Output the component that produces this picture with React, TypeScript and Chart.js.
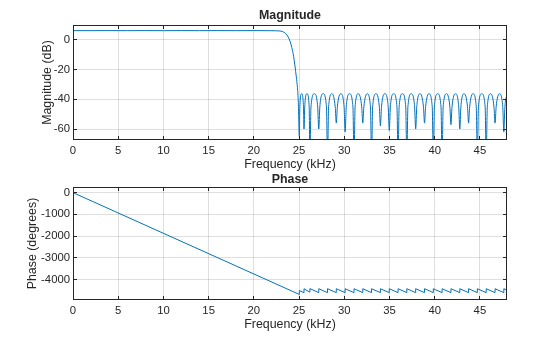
import React, { useEffect, useRef } from "react";
import { Chart, registerables } from "chart.js";

Chart.register(...registerables);

// ---- tick values ----
const freqTicks = [0, 5, 10, 15, 20, 25, 30, 35, 40, 45];
const magTicks = [-60, -40, -20, 0];
const phaseTicks = [-4000, -3000, -2000, -1000, 0];

// ---- axis ranges ----
const freqRange = [0, 48];
const magRange = [-67.4, 10.1];
const phaseRange = [-4950, 255];

// ---- magnitude response (kHz, dB) ----
const magFreq = [
  0, 2, 4, 6, 8, 10, 12, 14, 16, 18, 20, 22, 22.8, 23.2, 23.5, 23.8, 24.0, 24.2, 24.4, 24.55, 24.7, 24.82, 24.92,
  25.03, 25.09, 25.29, 25.49,
  25.55, 25.63, 25.875, 26.12,
  26.2, 26.32, 26.69, 27.06,
  27.18, 27.3, 27.665, 28.03,
  28.15, 28.27, 28.635, 29.0,
  29.12, 29.24, 29.61, 29.98,
  30.1, 30.22, 30.59, 30.96,
  31.08, 31.2, 31.565, 31.93,
  32.05, 32.17, 32.535, 32.9,
  33.02, 33.14, 33.51, 33.88,
  34.0, 34.12, 34.49, 34.86,
  34.98, 35.1, 35.465, 35.83,
  35.95, 36.07, 36.435, 36.8,
  36.92, 37.04, 37.41, 37.78,
  37.9, 38.02, 38.39, 38.76,
  38.88, 39.0, 39.365, 39.73,
  39.85, 39.97, 40.335, 40.7,
  40.82, 40.94, 41.31, 41.68,
  41.8, 41.92, 42.29, 42.66,
  42.78, 42.9, 43.265, 43.63,
  43.75, 43.87, 44.235, 44.6,
  44.72, 44.84, 45.21, 45.58,
  45.7, 45.82, 46.19, 46.56,
  46.68, 46.8, 47.165, 47.53,
  47.65, 47.77, 48.0,
];
const magDb = [
  6.3, 6.28, 6.32, 6.28, 6.32, 6.28, 6.32, 6.28, 6.32, 6.28, 6.32, 6.25, 6.1, 5.6, 4.4, 2.0, -0.8, -5.0, -11.0, -17.5, -25.0, -32.0, -42.0,
  -65, -45, -36.2, -45,
  -60, -45, -36.2, -45,
  -80, -45, -36.2, -45,
  -60, -45, -36.2, -45,
  -80, -45, -36.2, -45,
  -56, -45, -36.2, -45,
  -62, -45, -36.2, -45,
  -80, -45, -36.2, -45,
  -56, -45, -36.2, -45,
  -80, -45, -36.2, -45,
  -58, -45, -36.2, -45,
  -61, -45, -36.2, -45,
  -80, -45, -36.2, -45,
  -80, -45, -36.2, -45,
  -60, -45, -36.2, -45,
  -56, -45, -36.2, -45,
  -80, -45, -36.2, -45,
  -80, -45, -36.2, -45,
  -57, -45, -36.2, -45,
  -60, -45, -36.2, -45,
  -56, -45, -36.2, -45,
  -80, -45, -36.2, -45,
  -80, -45, -36.2, -45,
  -56, -45, -36.2, -45,
  -62, -45, -36.5,
];

// ---- phase response (kHz, degrees) ----
const phaseFreq = [
  0, 25.03, 25.03, 25.55, 25.55, 26.2, 26.2, 27.18, 27.18, 28.15, 28.15, 29.12, 29.12, 30.1, 30.1,
  31.08, 31.08, 32.05, 32.05, 33.02, 33.02, 34.0, 34.0, 34.98, 34.98, 35.95, 35.95, 36.92, 36.92,
  37.9, 37.9, 38.88, 38.88, 39.85, 39.85, 40.82, 40.82, 41.8, 41.8, 42.78, 42.78, 43.75, 43.75,
  44.72, 44.72, 45.7, 45.7, 46.68, 46.68, 47.65, 47.65, 48.0,
];
const phaseDeg = [
  0, -4693, -4513, -4610, -4430, -4590, -4425, -4610, -4430, -4610, -4430, -4610, -4430, -4610, -4430,
  -4610, -4430, -4610, -4430, -4610, -4430, -4610, -4430, -4610, -4430, -4610, -4430, -4610, -4430,
  -4610, -4430, -4610, -4430, -4610, -4430, -4610, -4430, -4610, -4430, -4610, -4430, -4610, -4430,
  -4610, -4430, -4610, -4430, -4610, -4430, -4610, -4430, -4495,
];

const FONT = "'Liberation Sans', Arial, Helvetica, sans-serif";
const TEXT = "#262626";
const GRID = "rgba(38,38,38,0.15)";
const LINE = "#0072BD";
const TICK_FONT = { family: FONT, size: 11.3, lineHeight: 1.2 };
const LABEL_FONT = { family: FONT, size: 12.4, lineHeight: 1.2 };
const TITLE_FONT = { family: FONT, size: 12.4, weight: "bold" as const, lineHeight: 1.2 };

const align = (p: number) => Math.round(p - 0.5) + 0.5;

const boxPlugin = {
  id: "axesBox",
  afterDraw(chart: any) {
    const { ctx, chartArea, scales } = chart;
    const l = Math.round(chartArea.left);
    const r = Math.round(chartArea.right);
    const t = Math.round(chartArea.top);
    const b = Math.round(chartArea.bottom);
    const len = 4;
    ctx.save();
    ctx.strokeStyle = TEXT;
    ctx.lineWidth = 1;
    ctx.beginPath();
    for (const tk of scales.x.ticks) {
      const px = align(scales.x.getPixelForValue(tk.value));
      ctx.moveTo(px, b);
      ctx.lineTo(px, b - len);
      ctx.moveTo(px, t);
      ctx.lineTo(px, t + len);
    }
    for (const tk of scales.y.ticks) {
      const py = align(scales.y.getPixelForValue(tk.value));
      ctx.moveTo(l, py);
      ctx.lineTo(l + len, py);
      ctx.moveTo(r, py);
      ctx.lineTo(r - len, py);
    }
    ctx.stroke();
    ctx.strokeRect(l + 0.5, t + 0.5, r - l - 1, b - t - 1);
    ctx.restore();
  },
};

type P = {
  xs: number[];
  ys: number[];
  yTicks: number[];
  yRange: number[];
  title: string;
  yTitle: string;
  titlePad: { top: number; bottom: number };
  xHeight: number;
  xTickPad: number;
  xTitlePadBottom: number;
  yTitlePadTop: number;
  monotone: boolean;
};

function buildConfig(p: P): any {
  return {
    type: "line",
    data: {
      datasets: [
        {
          data: p.xs.map((x, i) => ({ x, y: p.ys[i] })),
          borderColor: LINE,
          borderWidth: 1,
          pointRadius: 0,
          fill: false,
          tension: 0,
          cubicInterpolationMode: p.monotone ? "monotone" : "default",
        },
      ],
    },
    options: {
      responsive: false,
      animation: false,
      events: [],
      layout: { padding: { left: 0, right: 53, top: 0, bottom: 0 } },
      plugins: {
        legend: { display: false },
        tooltip: { enabled: false },
        title: {
          display: true,
          text: p.title,
          fullSize: false,
          color: TEXT,
          font: TITLE_FONT,
          padding: p.titlePad,
        },
      },
      scales: {
        x: {
          type: "linear",
          min: freqRange[0],
          max: freqRange[1],
          afterBuildTicks: (s: any) => {
            s.ticks = freqTicks.map((v) => ({ value: v }));
          },
          afterFit: (s: any) => {
            s.height = p.xHeight;
          },
          grid: { color: GRID, drawTicks: false, lineWidth: 1 },
          border: { display: false },
          ticks: {
            color: TEXT,
            font: TICK_FONT,
            padding: p.xTickPad,
            maxRotation: 0,
            autoSkip: false,
            callback: (v: any) => String(v),
          },
          title: {
            display: true,
            text: "Frequency (kHz)",
            color: TEXT,
            font: LABEL_FONT,
            padding: { top: 0, bottom: p.xTitlePadBottom },
          },
        },
        y: {
          type: "linear",
          min: p.yRange[0],
          max: p.yRange[1],
          afterBuildTicks: (s: any) => {
            s.ticks = p.yTicks.map((v) => ({ value: v }));
          },
          afterFit: (s: any) => {
            s.width = 73;
          },
          grid: { color: GRID, drawTicks: false, lineWidth: 1 },
          border: { display: false },
          ticks: {
            color: TEXT,
            font: TICK_FONT,
            padding: 3,
            autoSkip: false,
            callback: (v: any) => String(v),
          },
          title: {
            display: true,
            text: p.yTitle,
            color: TEXT,
            font: LABEL_FONT,
            padding: { top: p.yTitlePadTop, bottom: 0 },
          },
        },
      },
    },
    plugins: [boxPlugin],
  };
}

function Plot({ cfg, top, height }: { cfg: P; top: number; height: number }) {
  const ref = useRef<HTMLCanvasElement | null>(null);
  useEffect(() => {
    if (!ref.current) return;
    const chart = new Chart(ref.current, buildConfig(cfg));
    return () => chart.destroy();
  }, []);
  return (
    <canvas
      ref={ref}
      width={560}
      height={height}
      style={{ position: "absolute", left: 0, top, width: 560, height, display: "block" }}
    />
  );
}

export default function App() {
  const magCfg: P = {
    xs: magFreq,
    ys: magDb,
    yTicks: magTicks,
    yRange: magRange,
    title: "Magnitude",
    yTitle: "Magnitude (dB)",
    titlePad: { top: 8.56, bottom: 1.56 },
    xHeight: 32,
    xTickPad: 3.9,
    xTitlePadBottom: 0.3,
    yTitlePadTop: 39.9,
    monotone: true,
  };
  const phaseCfg: P = {
    xs: phaseFreq,
    ys: phaseDeg,
    yTicks: phaseTicks,
    yRange: phaseRange,
    title: "Phase",
    yTitle: "Phase (degrees)",
    titlePad: { top: 2.06, bottom: 0.16 },
    xHeight: 37,
    xTickPad: 4.5,
    xTitlePadBottom: 4.56,
    yTitlePadTop: 25.3,
    monotone: false,
  };
  return (
    <div
      style={{
        position: "fixed",
        left: 0,
        top: 0,
        width: 560,
        height: 337,
        background: "#ffffff",
        overflow: "hidden",
      }}
    >
      <Plot cfg={magCfg} top={0} height={172} />
      <Plot cfg={phaseCfg} top={170} height={167} />
    </div>
  );
}
